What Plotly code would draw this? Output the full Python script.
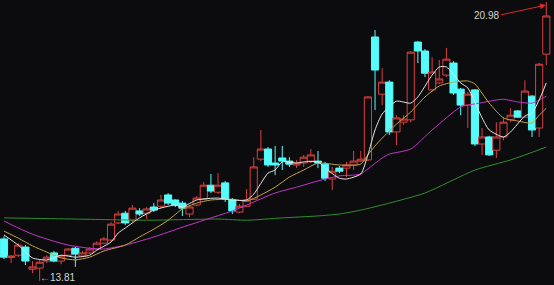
import plotly.graph_objects as go

# ---- candle data (index, open, high, low, close) ----
idx = list(range(77))
open_ = [14.89, 14.41, 14.47, 14.68, 14.11, 14.14, 14.32, 14.53, 14.32, 14.47,
         14.65, 14.45, 14.53, 14.63, 14.78, 14.86, 15.30, 15.55, 15.37, 15.61,
         15.55, 15.71, 15.73, 16.02, 15.89, 15.81, 15.53, 15.76, 15.91, 16.27,
         16.09, 16.33, 15.89, 15.58, 15.73, 15.91, 16.94, 17.20, 16.84, 16.97,
         16.89, 16.79, 16.84, 16.89, 16.89, 16.81, 16.43, 16.71, 16.71, 16.79,
         16.89, 16.92, 20.08, 18.61, 18.92, 17.64, 17.89, 17.95, 19.95, 19.72,
         18.72, 18.90, 19.10, 19.41, 18.74, 18.33, 18.72, 17.33, 17.51, 17.17,
         17.51, 17.95, 18.18, 18.02, 18.56, 17.74, 19.64]
high = [14.96, 14.47, 14.78, 14.73, 14.32, 14.35, 14.47, 14.58, 14.47, 14.65,
        14.68, 14.58, 14.68, 14.83, 14.94, 15.32, 15.61, 15.61, 15.76, 15.68,
        15.71, 15.81, 16.02, 16.07, 15.91, 15.86, 15.76, 15.99, 16.35, 16.56,
        16.58, 16.38, 15.94, 15.79, 16.17, 16.99, 17.69, 17.25, 17.28, 17.28,
        16.99, 16.92, 17.05, 17.20, 17.15, 16.87, 16.74, 16.76, 16.87, 17.15,
        17.15, 18.56, 20.26, 19.28, 18.97, 18.07, 18.07, 19.72, 19.98, 19.77,
        19.56, 19.49, 19.80, 19.46, 18.77, 18.67, 18.74, 17.74, 17.54, 17.89,
        18.02, 18.25, 18.20, 18.97, 18.59, 19.41, 20.98]
low = [14.37, 14.27, 14.42, 14.22, 14.01, 13.81, 14.27, 14.29, 14.24, 14.45,
       14.17, 14.42, 14.50, 14.60, 14.76, 14.83, 15.27, 15.25, 15.32, 15.48,
       15.40, 15.58, 15.68, 15.76, 15.71, 15.48, 15.45, 15.73, 15.89, 16.07,
       16.04, 15.84, 15.53, 15.55, 15.71, 15.89, 16.89, 16.74, 16.53, 16.66,
       16.74, 16.71, 16.74, 16.84, 16.71, 16.38, 16.15, 16.58, 16.48, 16.66,
       16.87, 16.89, 18.20, 18.33, 17.56, 17.30, 17.82, 17.89, 19.41, 19.05,
       18.67, 18.87, 19.05, 18.59, 18.07, 17.74, 17.28, 17.05, 17.02, 16.97,
       17.43, 17.89, 18.00, 18.00, 17.51, 17.51, 19.36]
close = [14.42, 14.45, 14.73, 14.32, 14.17, 14.29, 14.42, 14.32, 14.45, 14.63,
         14.50, 14.53, 14.63, 14.78, 14.89, 15.27, 15.53, 15.30, 15.68, 15.53,
         15.66, 15.63, 15.89, 15.81, 15.76, 15.68, 15.71, 15.94, 16.27, 16.12,
         16.27, 15.91, 15.61, 15.73, 15.89, 16.74, 17.20, 16.79, 16.79, 16.89,
         16.81, 16.84, 16.99, 17.05, 16.84, 16.45, 16.63, 16.63, 16.79, 16.89,
         16.94, 18.54, 19.23, 18.92, 17.64, 18.00, 17.97, 19.69, 19.72, 19.15,
         19.18, 19.00, 19.51, 18.64, 18.33, 18.61, 17.33, 17.51, 17.05, 17.51,
         17.89, 18.07, 18.02, 18.69, 17.69, 19.38, 20.62]

# ---- moving average lines ----
ma5_idx = [0, 2, 4, 6, 8, 10, 12, 13, 15, 16, 17, 19, 21, 24, 25, 27, 30, 32, 34, 35,
           37, 38, 39, 41, 42, 44, 45, 47, 48, 50, 51, 52, 53, 55, 57, 58, 60, 61, 62, 64,
           65, 67, 68, 70, 71, 73, 74, 75, 76]
ma5_val = [14.99, 14.73, 14.40, 14.35, 14.47, 14.42, 14.47, 14.60, 14.81, 15.04,
           15.17, 15.43, 15.63, 15.76, 15.71, 15.89, 15.94, 15.89, 15.89, 16.04,
           16.58, 16.66, 16.87, 16.84, 16.87, 16.87, 16.71, 16.45, 16.43, 16.56,
           17.05, 17.69, 18.10, 18.43, 18.38, 18.54, 19.10, 19.31, 19.31, 18.90,
           18.77, 18.00, 17.69, 17.51, 17.64, 18.05, 18.13, 18.46, 18.90]

ma10_idx = [0, 2, 4, 6, 8, 10, 12, 14, 17, 19, 21, 23, 25, 27, 29, 32, 34, 36, 38, 40,
            42, 44, 47, 50, 51, 52, 53, 55, 57, 59, 61, 63, 65, 66, 68, 70, 72, 74, 75, 76]
ma10_val = [15.09, 14.91, 14.71, 14.55, 14.40, 14.35, 14.42, 14.58, 14.73, 14.94,
            15.14, 15.37, 15.66, 15.81, 15.89, 15.91, 15.86, 16.02, 16.22, 16.48,
            16.66, 16.84, 16.79, 16.81, 17.05, 17.28, 17.48, 17.84, 18.15, 18.54,
            18.82, 18.92, 18.95, 18.87, 18.38, 18.00, 17.92, 17.87, 18.07, 18.25]

ma30_idx = [0, 2, 4, 7, 9, 12, 14, 17, 19, 21, 25, 28, 32, 34, 38, 41, 44, 47, 49, 50,
            51, 53, 54, 57, 60, 64, 66, 69, 70, 72, 74, 75, 76]
ma30_val = [15.35, 15.17, 15.01, 14.83, 14.73, 14.65, 14.63, 14.73, 14.83, 14.94,
            15.19, 15.37, 15.61, 15.76, 16.07, 16.22, 16.38, 16.51, 16.53, 16.56,
            16.69, 16.97, 17.07, 17.20, 17.69, 18.28, 18.36, 18.46, 18.48, 18.41,
            18.38, 18.46, 18.56]

ma120_idx = [0, 10, 20, 30, 34, 39, 44, 47, 50, 54, 59, 66, 71, 76]
ma120_val = [15.43, 15.40, 15.37, 15.40, 15.37, 15.43, 15.48, 15.53, 15.63, 15.81,
             16.07, 16.66, 16.92, 17.25]

BG = "#0c0c0e"
RED = "#d8403e"
CYAN = "#54fcfc"

fig = go.Figure()

fig.add_trace(go.Candlestick(
    x=idx, open=open_, high=high, low=low, close=close,
    increasing=dict(line=dict(color=RED, width=1), fillcolor=BG),
    decreasing=dict(line=dict(color=CYAN, width=1), fillcolor=CYAN),
    whiskerwidth=0, hoverinfo="skip", showlegend=False,
))

for xs, ys, col in [(ma120_idx, ma120_val, "#2e8f2e"),
                    (ma30_idx, ma30_val, "#c435c8"),
                    (ma10_idx, ma10_val, "#c4a440"),
                    (ma5_idx, ma5_val, "#e6e6e6")]:
    fig.add_trace(go.Scatter(x=xs, y=ys, mode="lines",
                             line=dict(color=col, width=1, shape="spline", smoothing=0.6),
                             hoverinfo="skip", showlegend=False))

# annotations: max and min price
fig.add_annotation(x=67.55, y=20.64, text="20.98", showarrow=False,
                   font=dict(family="Liberation Sans, Arial", size=10, color="#d4d4d4"))
fig.add_annotation(x=75.96, y=20.90, ax=69.4, ay=20.64, axref="x", ayref="y",
                   text="", showarrow=True, arrowhead=2, arrowsize=1.2,
                   arrowwidth=1, arrowcolor="#e02828")
fig.add_annotation(x=4.85, y=13.72, text="←13.81", showarrow=False,
                   xanchor="left", yanchor="bottom", borderpad=0,
                   font=dict(family="Liberation Sans, Arial", size=10, color="#d4d4d4"))

fig.update_layout(
    width=554, height=285,
    margin=dict(l=0, r=0, t=0, b=0),
    paper_bgcolor=BG, plot_bgcolor=BG,
    boxgap=0.0, boxgroupgap=0.0,
    xaxis=dict(visible=False, range=[-0.56, 77.08], rangeslider=dict(visible=False),
               fixedrange=True),
    yaxis=dict(visible=False, range=[13.705, 21.031], fixedrange=True),
    showlegend=False,
)

fig.write_html("out.html", config={"displayModeBar": False})
